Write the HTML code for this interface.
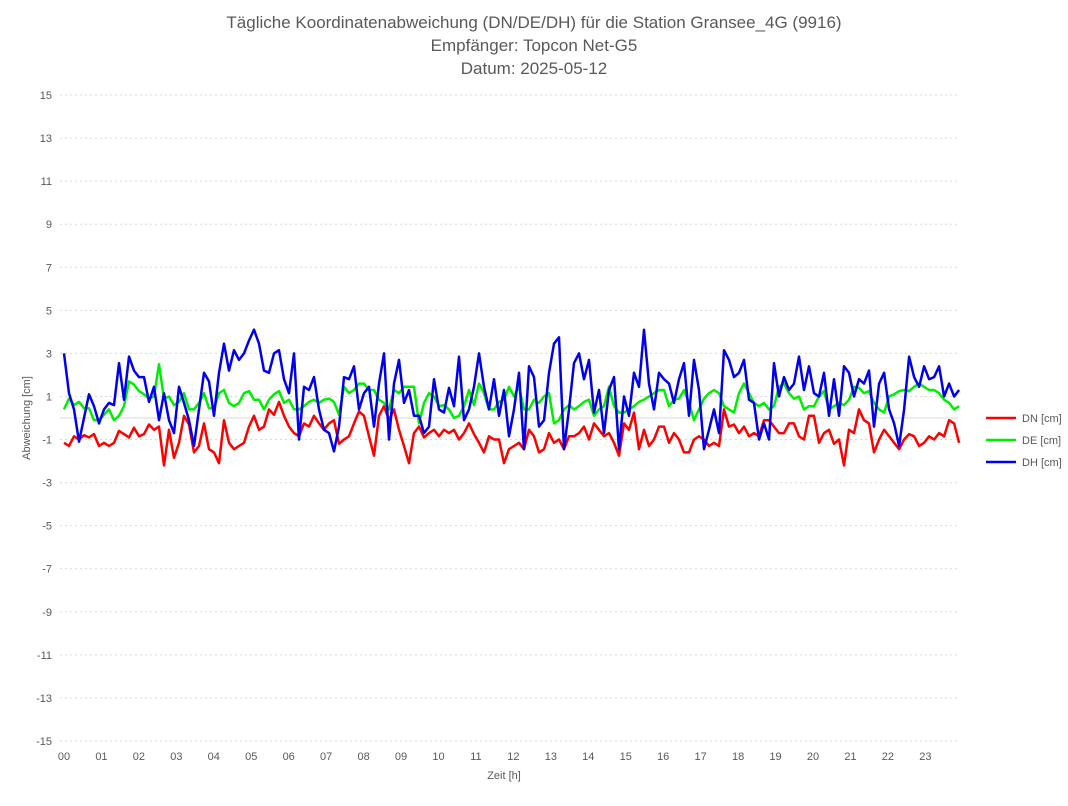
<!DOCTYPE html>
<html><head><meta charset="utf-8"><style>
body{margin:0;background:#fff;font-family:"Liberation Sans",sans-serif;}
svg text{font-family:"Liberation Sans",sans-serif;fill:#595959;}
</style></head><body>
<svg id="chart" width="1068" height="801" viewBox="0 0 1068 801" xmlns="http://www.w3.org/2000/svg">
<rect width="1068" height="801" fill="#fff"/>
<g font-size="17" text-anchor="middle">
<text x="534" y="28">Tägliche Koordinatenabweichung (DN/DE/DH) für die Station Gransee_4G (9916)</text>
<text x="534" y="51">Empfänger: Topcon Net-G5</text>
<text x="534" y="74">Datum: 2025-05-12</text>
</g>
<g id="grid"></g>
<g id="yticks" font-size="11" text-anchor="end"></g>
<g id="xticks" font-size="11" text-anchor="middle"></g>
<text x="30" y="418" font-size="11" text-anchor="middle" transform="rotate(-90 30 418)">Abweichung [cm]</text>
<text x="504" y="779" font-size="11" text-anchor="middle">Zeit [h]</text>
<g id="series"></g>
<g font-size="11">
<g><line x1="986" y1="418" x2="1016" y2="418" stroke="#ff0000" stroke-width="2.5"/><text x="1022" y="422">DN [cm]</text></g>
<g><line x1="986" y1="440" x2="1016" y2="440" stroke="#00ee00" stroke-width="2.5"/><text x="1022" y="444">DE [cm]</text></g>
<g><line x1="986" y1="462" x2="1016" y2="462" stroke="#0000ee" stroke-width="2.5"/><text x="1022" y="466">DH [cm]</text></g>
</g>
</svg>
<script>
const yTicks=[15,13,11,9,7,5,3,1,-1,-3,-5,-7,-9,-11,-13,-15];
const xTickLabels=["00","01","02","03","04","05","06","07","08","09","10","11","12","13","14","15","16","17","18","19","20","21","22","23"];
const dhValues=[3.0,1.15,0.4,-1.1,0,1.1,0.55,-0.25,0.4,0.7,0.6,2.55,0.85,2.85,2.2,1.9,1.9,0.75,1.45,-0.1,1.15,-0.1,-0.7,1.45,0.7,-0.1,-1.3,0.4,2.1,1.7,
0.1,2.1,3.45,2.2,3.15,2.7,3.0,3.6,4.1,3.45,2.2,2.1,3.0,3.15,1.8,1.15,3.0,-1.0,1.45,1.3,1.9,0.4,-0.55,-0.7,-1.55,-0.4,1.9,1.8,2.4,0.4,
1.15,1.45,-0.4,1.6,3.0,-1.0,1.6,2.7,0.7,1.3,0.1,0.1,-0.7,-0.4,1.8,0.4,0.25,1.4,0.55,2.85,-0.1,0.4,1.45,3.0,1.45,0.4,1.8,0.1,1.3,-0.85,
0.4,2.1,-1.45,2.4,1.9,-0.4,-0.1,2.1,3.45,3.75,-1.45,0.4,2.55,3.0,1.8,2.7,0.25,1.3,-0.7,1.3,1.9,-1.45,1.0,0.1,2.1,1.45,4.1,1.6,0.4,2.1,
1.8,1.6,0.7,1.8,2.55,0.1,2.7,1.3,-1.45,-0.55,0.4,-0.7,3.15,2.7,1.9,2.1,2.7,0.85,0.7,-1.0,-0.25,-1.0,2.55,1.0,1.9,1.3,1.6,2.85,1.3,2.4,
1.15,1.0,2.1,0.1,1.8,0.1,2.4,2.1,1.0,1.8,1.6,2.2,-0.4,1.6,2.1,0.4,-0.25,-1.3,0.4,2.85,1.9,1.45,2.4,1.8,1.9,2.4,1.0,1.6,1.0,1.3];
const deValues=[0.4,0.9,0.6,0.75,0.45,0.45,-0.1,-0.1,0.15,0.4,-0.1,0.1,0.55,1.7,1.55,1.25,1.1,0.9,1.0,2.5,0.9,1.0,0.6,0.75,1.15,0.4,0.4,0.7,1.15,0.45,
0.45,1.15,1.3,0.7,0.55,0.7,1.15,1.25,0.85,0.85,0.4,0.85,1.1,1.25,0.7,0.85,0.4,0.4,0.55,0.75,0.85,0.7,0.85,0.9,0.75,0.15,1.45,1.15,1.3,1.6,
1.6,1.3,1.3,0.85,0.7,0.4,1.3,1.15,1.45,1.45,1.45,-0.25,0.7,1.15,1.0,0.55,0.6,0.4,0.0,0.1,0.55,1.3,0.6,1.6,1.15,0.4,0.4,0.75,0.85,1.45,
1.0,1.45,0.4,0.4,0.85,0.7,1.0,1.15,-0.25,-0.1,0.4,0.6,0.4,0.55,0.75,0.85,0.1,0.4,0.55,1.45,0.55,0.25,0.25,0.4,0.55,0.75,0.85,1.0,1.15,1.3,
1.3,0.55,0.85,0.9,1.3,0.7,-0.1,0.4,0.9,1.15,1.3,1.15,0.55,0.4,0.25,1.15,1.6,1.15,0.7,0.55,0.7,0.4,0.55,1.45,1.6,1.15,0.9,1.0,0.4,0.55,
0.55,1.0,1.25,0.4,0.55,0.7,0.6,0.85,1.45,1.4,1.15,1.25,0.7,0.4,0.25,1.0,1.1,1.25,1.3,1.25,1.45,1.6,1.45,1.3,1.3,1.15,0.85,0.7,0.4,0.55];
const dnValues=[-1.15,-1.3,-0.85,-1.0,-0.8,-0.9,-0.75,-1.3,-1.15,-1.3,-1.15,-0.6,-0.75,-0.9,-0.45,-0.85,-0.75,-0.3,-0.55,-0.4,-2.2,-0.55,-1.85,-1.15,0.1,-0.3,-1.6,-1.3,-0.25,-1.45,
-1.6,-2.1,-0.1,-1.15,-1.45,-1.3,-1.15,-0.4,0.1,-0.55,-0.4,0.4,0.15,0.75,0.1,-0.4,-0.7,-0.85,-0.25,-0.4,0.1,-0.25,-0.55,-0.25,-0.1,-1.2,-1.0,-0.85,-0.25,0.3,
0.1,-0.85,-1.75,0.1,0.55,-0.1,0.4,-0.55,-1.3,-2.1,-0.7,-0.4,-0.9,-0.7,-0.55,-0.85,-0.55,-0.7,-0.55,-1.0,-0.7,-0.25,-0.75,-1.15,-1.6,-0.85,-1.0,-1.0,-2.1,-1.45,
-1.3,-1.15,-1.45,-0.55,-0.85,-1.6,-1.45,-0.7,-1.15,-1.0,-1.45,-0.85,-0.85,-0.7,-0.4,-1.0,-0.25,-0.55,-0.85,-0.7,-1.15,-1.75,-0.25,-0.55,0.25,-1.45,-0.55,-1.3,-1.0,-0.4,
-0.4,-1.15,-0.7,-1.0,-1.6,-1.6,-1.0,-0.85,-1.0,-1.3,-1.15,-1.3,0.4,-0.4,-0.3,-0.7,-0.4,-0.85,-0.7,-0.85,-0.1,-0.1,-0.4,-0.7,-0.7,-0.25,-0.25,-0.85,-1.0,0.1,
0.1,-1.15,-0.7,-0.55,-1.2,-1.0,-2.2,-0.55,-0.7,0.4,-0.1,-0.25,-1.6,-1.0,-0.55,-0.85,-1.15,-1.45,-1.0,-0.75,-0.85,-1.3,-1.15,-0.85,-1.0,-0.7,-0.85,-0.1,-0.25,-1.15];

const NS="http://www.w3.org/2000/svg";
const X0=64, HOUR=37.45, Y0=418, UNIT=21.53, XR=958;
function xScale(h){return X0+h*HOUR;}
function yScale(v){return Y0-v*UNIT;}
function mk(tag,attrs,parent){const e=document.createElementNS(NS,tag);for(const k in attrs)e.setAttribute(k,attrs[k]);parent.appendChild(e);return e;}
const grid=document.getElementById('grid'), yt=document.getElementById('yticks'), xt=document.getElementById('xticks'), ser=document.getElementById('series');
yTicks.forEach(v=>{
  const l=mk('line',{x1:60,x2:XR,y1:yScale(v),y2:yScale(v),stroke:'#d9d9d9','stroke-width':1,'stroke-dasharray':'2,3'},grid);
  
  
  const t=mk('text',{x:52,y:yScale(v)+4},yt);t.textContent=v;
  
  
});
const zl=mk('line',{x1:60,x2:XR,y1:yScale(0),y2:yScale(0),stroke:'#d9d9d9','stroke-width':1},grid);


xTickLabels.forEach((s,i)=>{
  const t=mk('text',{x:xScale(i),y:760},xt);t.textContent=s;
  
  
});
function drawSeries(vals,color,name){
  const n=vals.length, span=23.9;
  const pts=vals.map((v,i)=>xScale(i*span/(n-1)).toFixed(1)+','+yScale(v).toFixed(1)).join(' ');
  const p=mk('polyline',{points:pts,fill:'none',stroke:color,'stroke-width':2.5,'stroke-linejoin':'round'},ser);
  
  
}
drawSeries(dnValues,'#ff0000','dn-line');
drawSeries(deValues,'#00ee00','de-line');
drawSeries(dhValues,'#0000ee','dh-line');
</script>
</body></html>
